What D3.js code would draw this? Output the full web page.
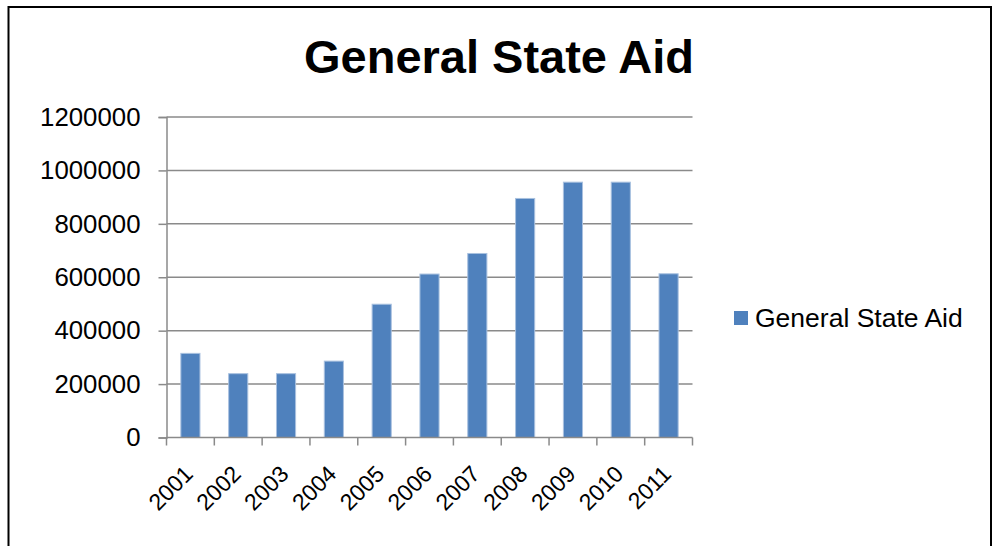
<!DOCTYPE html>
<html>
<head>
<meta charset="utf-8">
<script src="https://cdn.jsdelivr.net/npm/d3@7"></script>
<style>
  body { margin: 0; background: #fff; }
  text { font-family: "Liberation Sans", Arial, sans-serif; }
</style>
</head>
<body>
<div id="container"></div>
<script>
// data
const years = ["2001", "2002", "2003", "2004", "2005", "2006", "2007", "2008", "2009", "2010", "2011"];
const aid = [315000, 239000, 239000, 286000, 499000, 612000, 689000, 895000, 956000, 956000, 613000];
const yTicks = [0, 200000, 400000, 600000, 800000, 1000000, 1200000];
const seriesName = "General State Aid";

const width = 994,
  height = 546,
  margin = { top: 117, bottom: 108.5, left: 166.5, right: 301.5 };

const svg = d3
  .select("#container")
  .append("svg")
  .attr("width", width)
  .attr("height", height);

// outer frame (bottom edge is cut off in the original)
svg
  .append("rect")
  .attr("x", 8.5)
  .attr("y", 7)
  .attr("width", 982.5)
  .attr("height", 600)
  .attr("fill", "none")
  .attr("stroke", "#000")
  .attr("stroke-width", 2);

const x = d3
  .scaleBand()
  .domain(years)
  .range([margin.left, width - margin.right])
  .paddingInner(0.6)
  .paddingOuter(0.3);

const y = d3
  .scaleLinear()
  .domain([0, 1200000])
  .range([height - margin.bottom, margin.top]);

// gridlines
svg
  .selectAll(".grid")
  .data(yTicks.slice(1))
  .join("line")
  .attr("class", "grid")
  .attr("x1", margin.left)
  .attr("x2", width - margin.right)
  .attr("y1", (d) => y(d))
  .attr("y2", (d) => y(d))
  .attr("stroke", "#8a8a8a")
  .attr("stroke-width", 1.5);

// bars
svg
  .selectAll(".bar")
  .data(years)
  .join("rect")
  .attr("class", "bar")
  .attr("x", (d) => x(d))
  .attr("width", x.bandwidth())
  .attr("y", (d, i) => y(aid[i]))
  .attr("height", (d, i) => y(0) - y(aid[i]))
  .attr("fill", "#4f81bd")
  .attr("stroke", "#a9c1df")
  .attr("stroke-width", 1);

// y axis
const yAxis = svg
  .append("g")
  .attr("transform", `translate(${margin.left},0)`)
  .call(d3.axisLeft(y).tickValues(yTicks).tickFormat(d3.format("d")).tickSize(8).tickPadding(18));
yAxis.select(".domain").attr("stroke", "#8a8a8a").attr("stroke-width", 1.5);
yAxis.selectAll(".tick line").attr("stroke", "#8a8a8a").attr("stroke-width", 1.5);
yAxis.selectAll("text").attr("font-size", 25.8).attr("fill", "#000").attr("font-family", "Liberation Sans, Arial, sans-serif");

// x axis: ticks sit on band boundaries
const step = x.step();
const boundaries = d3.range(years.length + 1).map((i) => margin.left + i * step);
const xAxis = svg.append("g");
xAxis
  .append("line")
  .attr("x1", margin.left)
  .attr("x2", width - margin.right)
  .attr("y1", y(0))
  .attr("y2", y(0))
  .attr("stroke", "#8a8a8a")
  .attr("stroke-width", 1.5);
xAxis
  .selectAll(".xtick")
  .data(boundaries)
  .join("line")
  .attr("class", "xtick")
  .attr("x1", (d) => d)
  .attr("x2", (d) => d)
  .attr("y1", y(0))
  .attr("y2", y(0) + 8)
  .attr("stroke", "#8a8a8a")
  .attr("stroke-width", 1.5);
xAxis
  .selectAll(".xlabel")
  .data(years)
  .join("text")
  .attr("class", "xlabel")
  .attr("transform", (d) => `translate(${x(d) + x.bandwidth() / 2 + 4},${y(0) + 38}) rotate(-45)`)
  .attr("text-anchor", "end")
  .attr("font-size", 23)
  .text((d) => d);

// title
svg
  .append("text")
  .attr("x", 499)
  .attr("y", 73)
  .attr("text-anchor", "middle")
  .attr("font-size", 47)
  .attr("font-weight", "bold")
  .text(seriesName);

// legend
const legend = svg.append("g").attr("transform", "translate(734,311)");
legend.append("rect").attr("width", 14).attr("height", 14).attr("fill", "#4f81bd");
legend
  .append("text")
  .attr("x", 21)
  .attr("y", 15.5)
  .attr("font-size", 26.5)
  .text(seriesName);
</script>
</body>
</html>
